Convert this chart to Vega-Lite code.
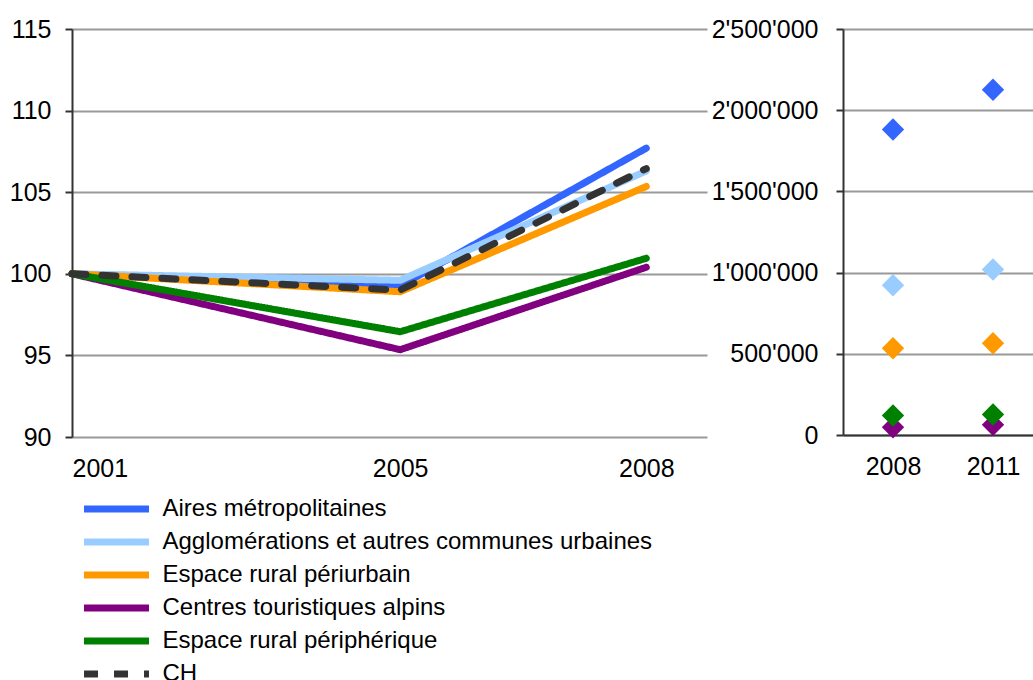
{
  "$schema": "https://vega.github.io/schema/vega-lite/v6.json",
  "padding": {"left": 9, "top": 17, "right": 0, "bottom": 0},
  "config": {
    "font": "Liberation Sans",
    "view": {"stroke": null},
    "axis": {
      "labelFont": "Liberation Sans",
      "labelFontSize": 25,
      "labelColor": "#000000",
      "title": null,
      "gridColor": "#999999",
      "gridWidth": 2,
      "domainColor": "#333333",
      "domainWidth": 2,
      "tickColor": "#333333",
      "tickWidth": 2
    },
    "legend": {"labelFont": "Liberation Sans", "labelColor": "#000000", "labelLimit": 0}
  },
  "datasets": {
    "indice": [
      {"region": "Aires métropolitaines", "annee": 2001, "indice": 100},
      {"region": "Aires métropolitaines", "annee": 2005, "indice": 99.25},
      {"region": "Aires métropolitaines", "annee": 2008, "indice": 107.7},
      {"region": "Agglomérations et autres communes urbaines", "annee": 2001, "indice": 100},
      {"region": "Agglomérations et autres communes urbaines", "annee": 2005, "indice": 99.6},
      {"region": "Agglomérations et autres communes urbaines", "annee": 2008, "indice": 106.3},
      {"region": "Espace rural périurbain", "annee": 2001, "indice": 100},
      {"region": "Espace rural périurbain", "annee": 2005, "indice": 98.9},
      {"region": "Espace rural périurbain", "annee": 2008, "indice": 105.35},
      {"region": "Centres touristiques alpins", "annee": 2001, "indice": 100},
      {"region": "Centres touristiques alpins", "annee": 2005, "indice": 95.35},
      {"region": "Centres touristiques alpins", "annee": 2008, "indice": 100.4},
      {"region": "Espace rural périphérique", "annee": 2001, "indice": 100},
      {"region": "Espace rural périphérique", "annee": 2005, "indice": 96.45},
      {"region": "Espace rural périphérique", "annee": 2008, "indice": 100.95},
      {"region": "CH", "annee": 2001, "indice": 100},
      {"region": "CH", "annee": 2005, "indice": 99.0},
      {"region": "CH", "annee": 2008, "indice": 106.45}
    ],
    "effectifs": [
      {"region": "Aires métropolitaines", "annee": "2008", "valeur": 1881000},
      {"region": "Aires métropolitaines", "annee": "2011", "valeur": 2126000},
      {"region": "Agglomérations et autres communes urbaines", "annee": "2008", "valeur": 922000},
      {"region": "Agglomérations et autres communes urbaines", "annee": "2011", "valeur": 1019000},
      {"region": "Espace rural périurbain", "annee": "2008", "valeur": 534000},
      {"region": "Espace rural périurbain", "annee": "2011", "valeur": 565000},
      {"region": "Centres touristiques alpins", "annee": "2008", "valeur": 48000},
      {"region": "Centres touristiques alpins", "annee": "2011", "valeur": 63000},
      {"region": "Espace rural périphérique", "annee": "2008", "valeur": 120000},
      {"region": "Espace rural périphérique", "annee": "2011", "valeur": 126000}
    ]
  },
  "spacing": 4,
  "resolve": {
    "scale": {"color": "independent", "strokeDash": "independent"},
    "legend": {"color": "independent", "strokeDash": "independent"}
  },
  "hconcat": [
    {
      "width": 635,
      "height": 408,
      "data": {"name": "indice"},
      "mark": {"type": "line", "strokeWidth": 7, "strokeCap": "round", "strokeJoin": "round"},
      "encoding": {
        "x": {
          "field": "annee",
          "type": "quantitative",
          "scale": {"domain": [2001, 2008.74], "nice": false, "zero": false},
          "axis": {"values": [2001, 2005, 2008], "format": "d", "grid": false, "domain": false, "ticks": false, "labelPadding": 19}
        },
        "y": {
          "field": "indice",
          "type": "quantitative",
          "scale": {"domain": [90, 115], "nice": false, "zero": false},
          "axis": {"values": [90, 95, 100, 105, 110, 115], "grid": true, "tickSize": 7, "labelPadding": 14}
        },
        "color": {
          "field": "region",
          "type": "nominal",
          "scale": {
            "domain": ["Aires métropolitaines", "Agglomérations et autres communes urbaines", "Espace rural périurbain", "Centres touristiques alpins", "Espace rural périphérique", "CH"],
            "range": ["#3366FF", "#99CCFF", "#FF9900", "#800080", "#008000", "#333333"]
          },
          "legend": {
            "title": null,
            "orient": "none",
            "legendX": 12,
            "legendY": 468,
            "padding": 0,
            "symbolType": "M-4.06,0H4.06",
            "symbolSize": 256,
            "symbolStrokeWidth": 7,
            "symbolOffset": 20.5,
            "labelOffset": 34,
            "labelFontSize": 24,
            "rowPadding": 5
          }
        },
        "strokeDash": {
          "field": "region",
          "type": "nominal",
          "scale": {
            "domain": ["Aires métropolitaines", "Agglomérations et autres communes urbaines", "Espace rural périurbain", "Centres touristiques alpins", "Espace rural périphérique", "CH"],
            "range": [[1, 0], [1, 0], [1, 0], [1, 0], [1, 0], [14, 16]]
          },
          "legend": {
            "title": null,
            "orient": "none",
            "legendX": 12,
            "legendY": 468,
            "padding": 0,
            "symbolType": "M-4.06,0H4.06",
            "symbolSize": 256,
            "symbolStrokeWidth": 7,
            "symbolOffset": 20.5,
            "labelOffset": 34,
            "labelFontSize": 24,
            "rowPadding": 5
          }
        }
      }
    },
    {
      "width": 200,
      "height": 406,
      "data": {"name": "effectifs"},
      "mark": {"type": "point", "shape": "diamond", "filled": true, "size": 500, "opacity": 1},
      "encoding": {
        "x": {
          "field": "annee",
          "type": "nominal",
          "scale": {"paddingInner": 0, "paddingOuter": 0},
          "axis": {"labelAngle": 0, "ticks": false, "grid": false, "labelPadding": 19}
        },
        "y": {
          "field": "valeur",
          "type": "quantitative",
          "scale": {"domain": [0, 2500000], "nice": false},
          "axis": {
            "values": [0, 500000, 1000000, 1500000, 2000000, 2500000],
            "grid": true,
            "tickSize": 7,
            "labelPadding": 18,
            "labelExpr": "replace(format(datum.value, ','), regexp(',', 'g'), \"'\")"
          }
        },
        "color": {
          "field": "region",
          "type": "nominal",
          "scale": {
            "domain": ["Aires métropolitaines", "Agglomérations et autres communes urbaines", "Espace rural périurbain", "Centres touristiques alpins", "Espace rural périphérique"],
            "range": ["#3366FF", "#99CCFF", "#FF9900", "#800080", "#008000"]
          },
          "legend": null
        }
      }
    }
  ]
}
